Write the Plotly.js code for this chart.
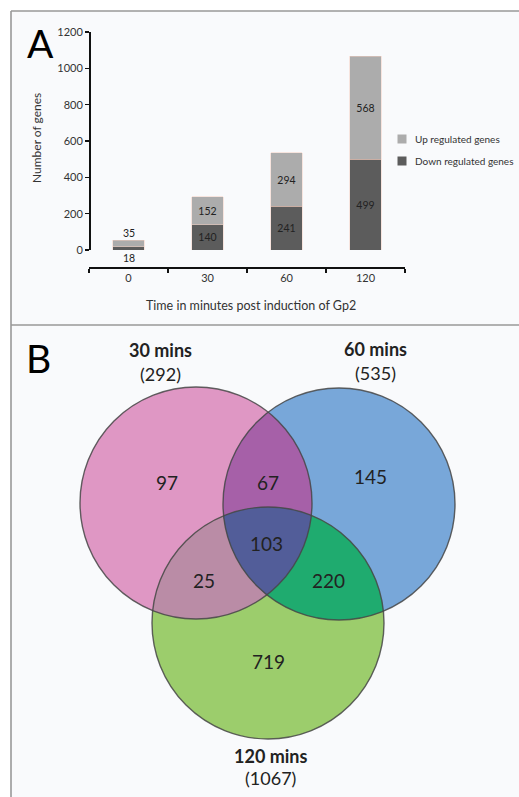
<!DOCTYPE html>
<html>
<head>
<meta charset="utf-8">
<script src="https://cdn.plot.ly/plotly-3.0.1.min.js"></script>
<style>html,body{margin:0;padding:0;background:#fff;overflow:hidden;}#chart{width:519px;height:797px;}</style>
</head>
<body>
<div id="chart"></div>
<script>
// ---------- DATA ----------
const timePoints = ['0', '30', '60', '120'];
const downRegulated = [18, 140, 241, 499];
const upRegulated = [35, 152, 294, 568];
const yTickValues = [0, 200, 400, 600, 800, 1000, 1200];
const seriesNames = ['Up regulated genes', 'Down regulated genes'];

const vennSetNames = ['30 mins', '60 mins', '120 mins'];
const vennSetTotals = [292, 535, 1067];
const vennRegionKeys = [[0], [1], [2], [0, 1], [0, 2], [1, 2], [0, 1, 2]];
const vennRegionCounts = [97, 145, 719, 67, 25, 220, 103];

// ---------- LAYOUT CONSTANTS (pixels) ----------
const W = 519, H = 797;
const FONT = 'Lato, "Open Sans", sans-serif';
const UP_COLOR = '#acacac', DOWN_COLOR = '#5c5c5c';
const circles = [
  {cx: 196, cy: 503, r: 116},
  {cx: 339, cy: 504, r: 116},
  {cx: 268, cy: 623, r: 116}
];
const regionColors = ['#df97c4', '#78a7d9', '#9ccd6c', '#a660a8', '#ba8ca6', '#1fab6f', '#525d99'];
const regionLabelPos = [[167, 482], [370, 476], [268, 661], [268, 482], [204, 580], [328, 580], [266, 543]];
const setLabelPos = [[160, 350, 374], [375, 349, 373], [270, 756, 778]];
const legendPos = [[402, 139], [402, 161]]; // swatch centres

function py(y) { return 1 - y / H; }
function px(x) { return x / W; }

// polygon for intersection of a set of circles
function intersectionPath(idx) {
  const pts = [];
  const N = 1440;
  idx.forEach(i => {
    const c = circles[i];
    for (let k = 0; k < N; k++) {
      const a = 2 * Math.PI * k / N;
      const x = c.cx + c.r * Math.cos(a), y = c.cy + c.r * Math.sin(a);
      let ok = true;
      idx.forEach(j => {
        if (j === i) return;
        const d = Math.hypot(x - circles[j].cx, y - circles[j].cy);
        if (d > circles[j].r + 0.01) ok = false;
      });
      if (ok) pts.push([x, y]);
    }
  });
  const mx = pts.reduce((s, p) => s + p[0], 0) / pts.length;
  const my = pts.reduce((s, p) => s + p[1], 0) / pts.length;
  pts.sort((p, q) => Math.atan2(p[1] - my, p[0] - mx) - Math.atan2(q[1] - my, q[0] - mx));
  return 'M' + pts.map(p => p[0].toFixed(2) + ',' + p[1].toFixed(2)).join('L') + 'Z';
}

const shapes = [];
// panel background & borders
shapes.push({type: 'rect', xref: 'paper', yref: 'paper', x0: px(11), x1: 1, y0: 0, y1: py(11),
  fillcolor: '#f9fafc', line: {width: 0}, layer: 'below'});
[[11, 11, 519, 11], [11, 11, 11, 797], [11, 325, 519, 325]].forEach(l => {
  shapes.push({type: 'line', xref: 'paper', yref: 'paper', x0: px(l[0]), y0: py(l[1]), x1: px(l[2]), y1: py(l[3]),
    line: {color: '#999999', width: 1.6}, layer: 'below'});
});
// legend swatches
[UP_COLOR, DOWN_COLOR].forEach((col, i) => {
  const [cx, cy] = legendPos[i];
  shapes.push({type: 'rect', xref: 'x2', yref: 'y2', x0: cx - 4.5, x1: cx + 4.5, y0: cy - 4.5, y1: cy + 4.5,
    fillcolor: col, line: {width: 0}});
});

// venn fills
vennRegionKeys.forEach((key, ri) => {
  if (key.length === 1) {
    const c = circles[key[0]];
    shapes.push({type: 'circle', xref: 'x2', yref: 'y2', x0: c.cx - c.r, x1: c.cx + c.r, y0: c.cy - c.r, y1: c.cy + c.r,
      fillcolor: regionColors[ri], line: {width: 0}});
  }
});
vennRegionKeys.forEach((key, ri) => {
  if (key.length > 1) {
    shapes.push({type: 'path', xref: 'x2', yref: 'y2', path: intersectionPath(key),
      fillcolor: regionColors[ri], line: {width: 0}});
  }
});
circles.forEach(c => {
  shapes.push({type: 'circle', xref: 'x2', yref: 'y2', x0: c.cx - c.r, x1: c.cx + c.r, y0: c.cy - c.r, y1: c.cy + c.r,
    fillcolor: 'rgba(0,0,0,0)', line: {color: 'rgba(70,70,70,0.85)', width: 1.4}});
});

const annotations = [];
// panel letters
annotations.push({xref: 'paper', yref: 'paper', x: px(40), y: py(43), text: 'A', showarrow: false,
  font: {family: FONT, size: 39, color: '#000'}, xanchor: 'center', yanchor: 'middle'});
annotations.push({xref: 'paper', yref: 'paper', x: px(38), y: py(358), text: 'B', showarrow: false,
  font: {family: FONT, size: 39, color: '#000'}, xanchor: 'center', yanchor: 'middle'});
// axis titles
annotations.push({xref: 'paper', yref: 'paper', x: px(37), y: py(138), text: 'Number of genes', textangle: -90,
  showarrow: false, font: {family: FONT, size: 12, color: '#333'}, xanchor: 'center', yanchor: 'middle'});
annotations.push({xref: 'paper', yref: 'paper', x: px(251), y: py(305), text: 'Time in minutes post induction of Gp2',
  showarrow: false, font: {family: FONT, size: 12.5, color: '#333'}, xanchor: 'center', yanchor: 'middle'});
// legend labels
seriesNames.forEach((n, i) => {
  annotations.push({xref: 'x2', yref: 'y2', x: legendPos[i][0] + 11, y: legendPos[i][1], text: n,
    showarrow: false, xanchor: 'left', yanchor: 'middle', font: {family: FONT, size: 10, color: '#333'}});
});
// bar 0 labels outside
annotations.push({xref: 'x', yref: 'y', x: timePoints[0], y: downRegulated[0] + upRegulated[0], text: String(upRegulated[0]),
  showarrow: false, yanchor: 'bottom', yshift: -1, font: {family: FONT, size: 10.5, color: '#222'}});
annotations.push({xref: 'x', yref: 'y', x: timePoints[0], y: 0, text: String(downRegulated[0]),
  showarrow: false, yanchor: 'top', yshift: 0, font: {family: FONT, size: 10.5, color: '#222'}});
// venn region counts
vennRegionCounts.forEach((v, i) => {
  annotations.push({xref: 'x2', yref: 'y2', x: regionLabelPos[i][0], y: regionLabelPos[i][1], text: String(v),
    showarrow: false, font: {family: FONT, size: 19, color: '#222'}, xanchor: 'center', yanchor: 'middle'});
});
// venn set labels
vennSetNames.forEach((n, i) => {
  annotations.push({xref: 'x2', yref: 'y2', x: setLabelPos[i][0], y: setLabelPos[i][1], text: '<b>' + n + '</b>',
    showarrow: false, font: {family: FONT, size: 18, color: '#222'}, xanchor: 'center', yanchor: 'middle'});
  annotations.push({xref: 'x2', yref: 'y2', x: setLabelPos[i][0], y: setLabelPos[i][2], text: '(' + vennSetTotals[i] + ')',
    showarrow: false, font: {family: FONT, size: 18, color: '#222'}, xanchor: 'center', yanchor: 'middle'});
});

const barTextPos = timePoints.map((t, i) => i === 0 ? 'none' : 'inside');
const traces = [
  {type: 'bar', name: seriesNames[1], x: timePoints, y: downRegulated, xaxis: 'x', yaxis: 'y',
    marker: {color: DOWN_COLOR, line: {color: 'rgba(245,205,190,0.6)', width: 0.8}},
    text: downRegulated.map(String), textposition: barTextPos, insidetextanchor: 'middle', textangle: 0,
    constraintext: 'none', insidetextfont: {family: FONT, size: 10.5, color: '#222'}, hoverinfo: 'x+y+name',
    showlegend: false},
  {type: 'bar', name: seriesNames[0], x: timePoints, y: upRegulated, xaxis: 'x', yaxis: 'y',
    marker: {color: UP_COLOR, line: {color: 'rgba(245,205,190,0.6)', width: 0.8}},
    text: upRegulated.map(String), textposition: barTextPos, insidetextanchor: 'middle', textangle: 0,
    constraintext: 'none', insidetextfont: {family: FONT, size: 10.5, color: '#222'}, hoverinfo: 'x+y+name',
    showlegend: false},
  {type: 'scatter', x: [0], y: [0], xaxis: 'x2', yaxis: 'y2', mode: 'markers', marker: {opacity: 0},
    showlegend: false, hoverinfo: 'skip'}
];

const layout = {
  width: W, height: H,
  margin: {l: 0, r: 0, t: 0, b: 0, pad: 0},
  paper_bgcolor: '#ffffff', plot_bgcolor: 'rgba(0,0,0,0)',
  font: {family: FONT, color: '#333'},
  barmode: 'stack', bargap: 0.6,
  showlegend: false,
  xaxis: {domain: [px(89), px(405)], type: 'category', anchor: 'free', position: py(267),
    showline: true, linecolor: '#111', linewidth: 1.5, ticks: 'outside', ticklen: 4, tickwidth: 1.5, tickcolor: '#111',
    tickson: 'boundaries', showgrid: false, zeroline: false, fixedrange: true,
    tickfont: {family: FONT, size: 11, color: '#333'}},
  yaxis: {domain: [py(250), py(32)], range: [0, 1200], anchor: 'free', position: px(89),
    showline: true, linecolor: '#111', linewidth: 1.5, ticks: 'outside', ticklen: 4, tickwidth: 1.5, tickcolor: '#111',
    tickmode: 'array', tickvals: yTickValues, showgrid: false, zeroline: false, fixedrange: true,
    tickfont: {family: FONT, size: 11, color: '#333'}},
  xaxis2: {domain: [0, 1], range: [0, W], visible: false, anchor: 'y2', fixedrange: true},
  yaxis2: {domain: [0, 1], range: [H, 0], visible: false, anchor: 'x2', fixedrange: true},
  shapes: shapes,
  annotations: annotations
};

Plotly.newPlot('chart', traces, layout, {displayModeBar: false, staticPlot: true});
</script>
</body>
</html>
